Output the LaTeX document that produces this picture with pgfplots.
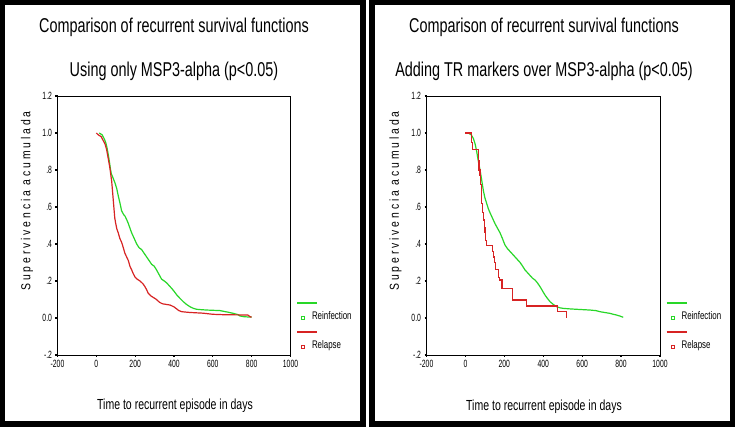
\documentclass[border=0pt]{standalone}
\usepackage{pgfplots}
\pgfplotsset{compat=1.18}
\usepackage{fontspec}
\setmainfont{Liberation Sans}
\newfontfamily\narrow{Liberation Sans}[FakeStretch=0.72]
\newfontfamily\ticknarrow{Liberation Sans}[FakeStretch=0.65]
\newfontfamily\ylabfont{Liberation Sans}[FakeStretch=0.8, LetterSpace=22]
\definecolor{gcol}{RGB}{40,215,40}
\definecolor{rcol}{RGB}{215,35,35}

\pgfplotstableread{
t S
0 1.0
10 0.99
25 0.98
35 0.96
45 0.94
53 0.91
60 0.87
65 0.84
70 0.81
75 0.77
79 0.74
83 0.69
87 0.64
91 0.59
95 0.54
100 0.51
106 0.48
113 0.46
121 0.43
130 0.41
139 0.38
147 0.35
156 0.33
165 0.31
173 0.28
182 0.26
190 0.24
200 0.22
210 0.21
225 0.20
240 0.185
250 0.17
258 0.155
267 0.134
280 0.12
295 0.11
310 0.10
325 0.085
340 0.077
380 0.07
400 0.06
415 0.048
425 0.04
440 0.034
480 0.03
550 0.026
600 0.02
650 0.018
780 0.016
795 0.005
800 0.005
}\relapseA

\pgfplotstableread{
t S
15 1.0
30 0.99
40 0.97
48 0.95
55 0.92
62 0.88
68 0.84
72 0.81
77 0.78
85 0.76
96 0.73
105 0.70
113 0.66
122 0.62
130 0.58
140 0.56
148 0.55
157 0.53
165 0.51
175 0.48
182 0.46
195 0.43
208 0.40
220 0.38
233 0.37
246 0.35
259 0.33
272 0.31
285 0.29
298 0.28
310 0.26
323 0.235
336 0.21
350 0.20
362 0.19
375 0.175
388 0.16
400 0.145
414 0.125
430 0.107
448 0.088
465 0.073
482 0.061
500 0.052
517 0.047
540 0.045
568 0.043
637 0.04
680 0.031
706 0.025
730 0.018
740 0.011
760 0.007
792 0.005
800 0.005
}\reinfA

\pgfplotstableread{
t S
0 1.0
30 0.95
37 0.91
66 0.85
70 0.80
75 0.77
78 0.72
81 0.66
84 0.62
88 0.57
92 0.53
97 0.49
101 0.46
105 0.42
109 0.39
140 0.36
143 0.33
150 0.30
156 0.26
168 0.24
172 0.22
177 0.205
188 0.16
243 0.097
315 0.065
472 0.034
520 0.0
}\relapseB

\pgfplotstableread{
t S
15 1.0
30 0.99
41 0.97
50 0.94
58 0.90
66 0.85
75 0.80
83 0.75
92 0.69
100 0.65
109 0.62
118 0.59
126 0.57
139 0.54
152 0.51
165 0.485
178 0.46
190 0.43
203 0.395
216 0.375
229 0.36
242 0.345
255 0.33
268 0.315
281 0.30
294 0.28
306 0.26
319 0.245
332 0.23
345 0.215
358 0.205
370 0.19
383 0.17
396 0.147
409 0.124
422 0.105
435 0.088
452 0.073
469 0.061
486 0.055
503 0.052
540 0.049
572 0.047
640 0.043
670 0.04
692 0.034
720 0.029
743 0.025
760 0.02
777 0.016
795 0.01
811 0.004
}\reinfB

\pgfplotsset{
  panel/.style={
    scale only axis, width=233pt, height=259pt, anchor=south west,
    xmin=-200, xmax=1000, ymin=-0.2, ymax=1.2,
    xtick={-200,0,200,400,600,800,1000},
    xticklabels={-200,0,200,400,600,800,1000},
    ytick={-0.2,0,0.2,0.4,0.6,0.8,1.0,1.2},
    yticklabels={-.2,0.0,.2,.4,.6,.8,1.0,1.2},
    tick align=outside, xtick pos=left, ytick pos=left,
    major tick length=2pt,
    tick style={black, line width=1.3pt},
    axis line style={black, line width=0.8pt},
    /pgf/number format/assume math mode=true,
    ticklabel style={font=\ticknarrow\fontsize{10.5}{11}\selectfont},
    legend style={at={(1.028,0.228)}, anchor=north west, draw=none, fill=none,
      inner sep=0pt, outer sep=0pt, row sep=0pt, column sep=0pt,
      nodes={font=\narrow\fontsize{11}{12}\selectfont, inner sep=0pt,
        text height=9pt, text depth=5.5pt, anchor=west}},
  },
  gline/.style={color=gcol, line width=1.2pt},
  rline/.style={color=rcol, line width=1.2pt},
  lline/.style={legend image code/.code={\draw[overlay, ##1, line width=1.5pt] (0pt,0pt) -- (20pt,0pt); \path[draw=none, fill=none] (0pt,0pt) -- (15pt,0pt);}},
  lsq/.style={legend image code/.code={\path[draw=none, fill=none] (0pt,0pt) -- (15pt,0pt); \draw[##1, fill=none, line width=0.8pt] (4.7pt,-1.5pt) rectangle (7.7pt,1.5pt);}},
}

\begin{document}
\begin{tikzpicture}[x=1pt,y=1pt]
\fill[black] (0pt,0pt) rectangle (735pt,427pt);
\fill[white] (366pt,0pt) rectangle (369pt,427pt);
\fill[white] (5pt,6pt) rectangle (360pt,422pt);
\fill[white] (375pt,6pt) rectangle (730pt,422pt);

% Left panel
\node[anchor=base, font=\narrow\fontsize{20}{24}\selectfont] at (174pt,394pt) {Comparison of recurrent survival functions};
\node[anchor=base, font=\narrow\fontsize{20}{24}\selectfont] at (174pt,350pt) {Using only MSP3-alpha (p<0.05)};
\node[anchor=base, font=\narrow\fontsize{14.6}{16}\selectfont] at (175pt,17pt) {Time to recurrent episode in days};
\node[rotate=90, font=\ylabfont\fontsize{13}{15}\selectfont] at (27pt,226pt) {Supervivencia acumulada};

\begin{axis}[panel, at={(57.5pt,72pt)}]
\addlegendimage{lline, draw=gcol}
\addlegendentry{}
\addlegendimage{lsq, draw=gcol}
\addlegendentry{Reinfection}
\addlegendimage{lline, draw=rcol}
\addlegendentry{}
\addlegendimage{lsq, draw=rcol}
\addlegendentry{Relapse}
\addplot[gline, sharp plot, forget plot] table[x=t, y=S] {\reinfA};
\addplot[rline, sharp plot, forget plot] table[x=t, y=S] {\relapseA};
\end{axis}

% Right panel
\node[anchor=base, font=\narrow\fontsize{20}{24}\selectfont] at (544pt,394pt) {Comparison of recurrent survival functions};
\node[anchor=base, font=\narrow\fontsize{20}{24}\selectfont] at (544pt,350pt) {Adding TR markers over MSP3-alpha (p<0.05)};
\node[anchor=base, font=\narrow\fontsize{14.6}{16}\selectfont] at (544pt,16pt) {Time to recurrent episode in days};
\node[rotate=90, font=\ylabfont\fontsize{13}{15}\selectfont] at (395.5pt,226pt) {Supervivencia acumulada};

\begin{axis}[panel, at={(426.5pt,72pt)}, width=233.5pt]
\addlegendimage{lline, draw=gcol}
\addlegendentry{}
\addlegendimage{lsq, draw=gcol}
\addlegendentry{Reinfection}
\addlegendimage{lline, draw=rcol}
\addlegendentry{}
\addlegendimage{lsq, draw=rcol}
\addlegendentry{Relapse}
\addplot[gline, sharp plot, forget plot] table[x=t, y=S] {\reinfB};
\addplot[rline, const plot, forget plot] table[x=t, y=S] {\relapseB};
\end{axis}
\end{tikzpicture}
\end{document}
